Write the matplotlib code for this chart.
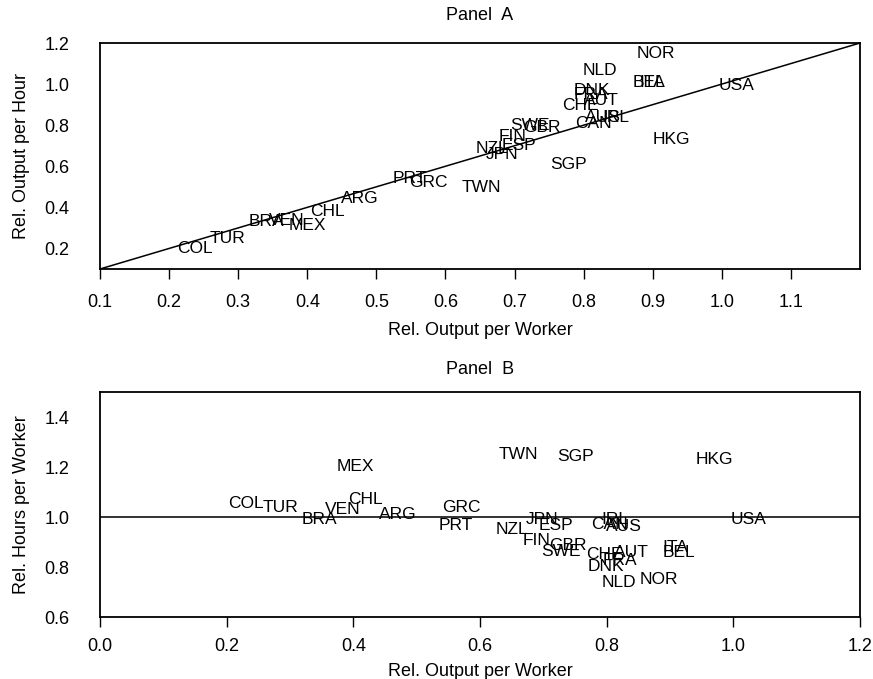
import matplotlib.pyplot as plt

plt.rcParams['font.family'] = ['Liberation Sans', 'DejaVu Sans']

# === Daten ===
laender = ["COL", "TUR", "BRA", "VEN", "MEX", "CHL", "ARG", "PRT", "GRC", "TWN",
           "SGP", "NZL", "JPN", "ESP", "FIN", "SWE", "GBR", "CHE", "CAN", "AUS",
           "IRL", "DNK", "FRA", "AUT", "NLD", "NOR", "BEL", "ITA", "HKG", "USA"]

# Panel A: Output pro Arbeiter vs. Output pro Stunde
worker_a = [0.211, 0.258, 0.315, 0.344, 0.373, 0.404, 0.449, 0.523, 0.547, 0.623,
            0.752, 0.643, 0.658, 0.682, 0.677, 0.694, 0.713, 0.769, 0.788, 0.802,
            0.827, 0.785, 0.785, 0.800, 0.798, 0.877, 0.871, 0.880, 0.900, 0.995]
hour_a = [0.200, 0.248, 0.332, 0.337, 0.310, 0.380, 0.442, 0.541, 0.522, 0.495,
          0.607, 0.688, 0.656, 0.699, 0.747, 0.800, 0.788, 0.896, 0.807, 0.836,
          0.836, 0.970, 0.949, 0.920, 1.066, 1.150, 1.010, 1.010, 0.731, 0.994]

# Panel B: Output pro Arbeiter vs. Stunden pro Arbeiter
worker_b = [0.202, 0.256, 0.318, 0.355, 0.373, 0.392, 0.440, 0.534, 0.540, 0.630,
            0.722, 0.625, 0.672, 0.693, 0.667, 0.696, 0.709, 0.767, 0.775, 0.799,
            0.791, 0.770, 0.793, 0.812, 0.792, 0.852, 0.888, 0.888, 0.941, 0.996]
hours_b = [1.055, 1.040, 0.991, 1.031, 1.202, 1.069, 1.011, 0.964, 1.038, 1.250,
           1.242, 0.950, 0.991, 0.968, 0.907, 0.863, 0.887, 0.849, 0.970, 0.961,
           0.988, 0.802, 0.827, 0.859, 0.738, 0.751, 0.859, 0.876, 1.229, 0.991]

xticks_a = [0.1, 0.2, 0.3, 0.4, 0.5, 0.6, 0.7, 0.8, 0.9, 1.0, 1.1]
yticks_a = [0.2, 0.4, 0.6, 0.8, 1.0, 1.2]
xticks_b = [0.0, 0.2, 0.4, 0.6, 0.8, 1.0, 1.2]
yticks_b = [0.6, 0.8, 1.0, 1.2, 1.4]

# === Diagramm ===
fig = plt.figure(figsize=(8.73, 6.79), dpi=100)
ax1 = fig.add_axes([100 / 873, 1 - 269 / 679, 760 / 873, 226 / 679])
ax2 = fig.add_axes([100 / 873, 1 - 617 / 679, 760 / 873, 225 / 679])

fs = 13

def stil(ax, xpad, xlabelpad):
    for s in ax.spines.values():
        s.set_linewidth(1.3)
    ax.tick_params(axis="x", direction="out", length=7, width=1, pad=xpad, labelsize=fs)
    ax.tick_params(axis="y", length=0, pad=22, labelsize=fs)
    ax.set_xlabel("Rel. Output per Worker", fontsize=fs, labelpad=xlabelpad)

# Panel A
ax1.set_xlim(0.1, 1.2)
ax1.set_ylim(0.1, 1.2)
ax1.axline((0, 0), slope=1, color="black", linewidth=1.1)
for name, x, y in zip(laender, worker_a, hour_a):
    ax1.text(x, y, name, fontsize=12.5, ha="left", va="center")
ax1.set_xticks(xticks_a)
ax1.set_xticklabels([f"{v:.1f}" for v in xticks_a])
ax1.set_yticks(yticks_a)
ax1.set_yticklabels([f"{v:.1f}" for v in yticks_a])
stil(ax1, 11, 8)
ax1.set_ylabel("Rel. Output per Hour", fontsize=fs, labelpad=10)
fig.text(480 / 873, 1 - 15 / 679, "Panel  A", fontsize=fs, ha="center", va="center")

# Panel B
ax2.set_xlim(0.0, 1.2)
ax2.set_ylim(0.6, 1.5)
ax2.axhline(1.0, color="#222222", linewidth=1.3)
for name, x, y in zip(laender, worker_b, hours_b):
    ax2.text(x, y, name, fontsize=12.5, ha="left", va="center")
ax2.set_xticks(xticks_b)
ax2.set_xticklabels([f"{v:.1f}" for v in xticks_b])
ax2.set_yticks(yticks_b)
ax2.set_yticklabels([f"{v:.1f}" for v in yticks_b])
stil(ax2, 8, 6)
ax2.set_ylabel("Rel. Hours per Worker", fontsize=fs, labelpad=10)
fig.text(480 / 873, 1 - 370 / 679, "Panel  B", fontsize=fs, ha="center", va="center")

plt.savefig("out.png", dpi=100)
